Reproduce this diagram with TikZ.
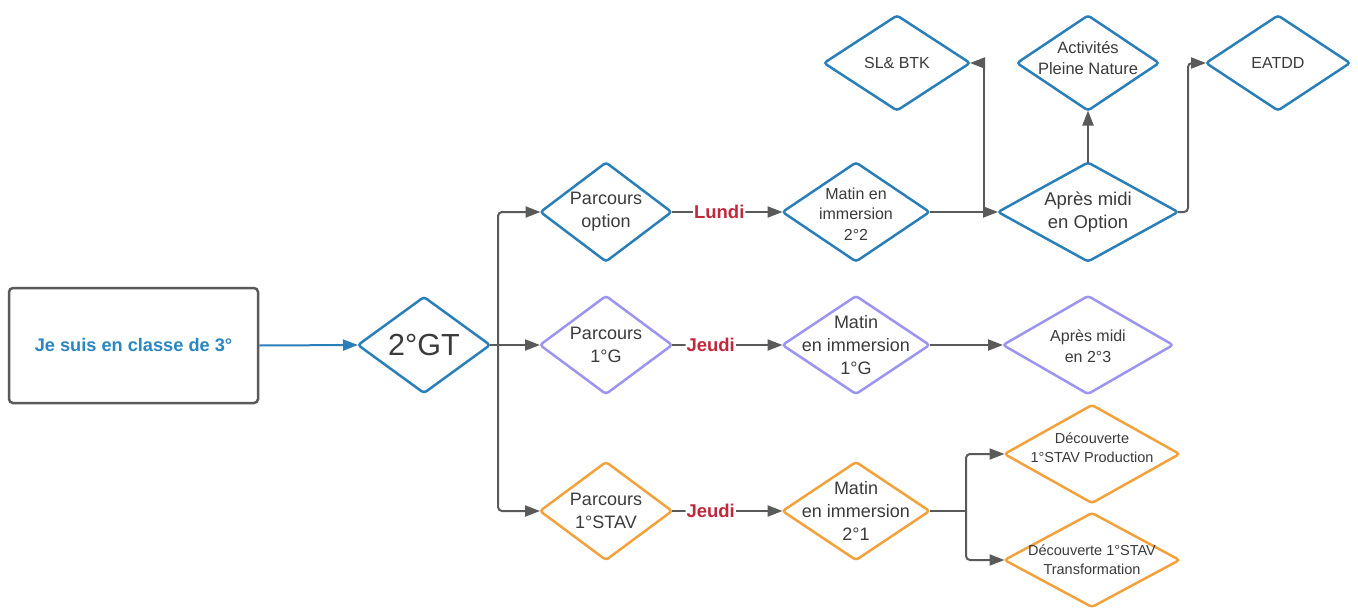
\documentclass[tikz,border=0pt]{standalone}
\usepackage{fontspec}
\setmainfont{Liberation Sans}
\usetikzlibrary{shapes.geometric,arrows.meta}
\definecolor{cblue}{HTML}{2A7FB8}
\definecolor{cpurple}{HTML}{9C95F0}
\definecolor{corange}{HTML}{F2A23C}
\definecolor{cgray}{HTML}{5A5A5A}
\definecolor{ctext}{HTML}{3B3B3B}
\definecolor{cred}{HTML}{C0283C}
\definecolor{cboxtext}{HTML}{2A86C0}
\begin{document}
\begin{tikzpicture}[x=1pt,y=-1pt,
  dia/.style={diamond,draw,line width=2.5pt,rounded corners=3pt,inner sep=0pt,outer sep=0pt,fill=white},
  bdia/.style={dia,draw=cblue},
  pdia/.style={dia,draw=cpurple},
  odia/.style={dia,draw=corange},
  txt/.style={align=center,text=ctext,inner sep=0pt},
  lbl/.style={fill=white,text=cred,font=\fontsize{18.5}{20}\selectfont\bfseries,inner sep=1pt},
  conn/.style={draw=cgray,line width=2pt,-{Triangle[length=15pt,width=11pt]},rounded corners=4pt},
  plain/.style={draw=cgray,line width=2pt,rounded corners=4pt},
]
\useasboundingbox (0,0) rectangle (1358,608);

% start box
\node[draw=cgray,line width=2.5pt,rounded corners=4pt,minimum width=249pt,minimum height=115pt,inner sep=0pt,
  text=cboxtext,font=\fontsize{18.2}{20}\selectfont\bfseries] (box) at (133.5,345.5) {Je suis en classe de 3°};

% 2°GT
\node[bdia,minimum width=132pt,minimum height=96pt] (gt) at (424,345) {};
\node[txt,font=\fontsize{30.5}{32}\selectfont] (gtt) at (gt) {2°GT};

% Parcours
\node[bdia,minimum width=131pt,minimum height=99pt] (po) at (606,212) {};
\node[txt,font=\fontsize{18}{23}\selectfont] (pot) at (po) {Parcours\\option};
\node[pdia,minimum width=132pt,minimum height=98pt] (pg) at (606,345) {};
\node[txt,font=\fontsize{18}{23}\selectfont] (pgt) at (pg) {Parcours\\1°G};
\node[odia,minimum width=132pt,minimum height=98pt] (ps) at (606,511) {};
\node[txt,font=\fontsize{18}{23}\selectfont] (pst) at (ps) {Parcours\\1°STAV};

% Matin
\node[bdia,minimum width=147pt,minimum height=99pt] (mo) at (856,212) {};
\node[txt,font=\fontsize{16}{20.5}\selectfont] (mot) at ([yshift=-2pt]mo.center) {Matin en\\immersion\\2°2};
\node[pdia,minimum width=147pt,minimum height=98pt] (mg) at (856,345) {};
\node[txt,font=\fontsize{18}{23}\selectfont] (mgt) at (mg) {Matin\\en immersion\\1°G};
\node[odia,minimum width=147pt,minimum height=98pt] (ms) at (856,511) {};
\node[txt,font=\fontsize{18}{23}\selectfont] (mst) at (ms) {Matin\\en immersion\\2°1};

% Apres midi
\node[bdia,minimum width=180pt,minimum height=99pt] (ao) at (1088,212) {};
\node[txt,font=\fontsize{18.5}{23}\selectfont] (aot) at (ao) {Après midi\\en Option};
\node[pdia,minimum width=170pt,minimum height=98pt] (ag) at (1088,345) {};
\node[txt,font=\fontsize{16}{21}\selectfont] (agt) at ([yshift=-1pt]ag.center) {Après midi\\en 2°3};

% top row
\node[bdia,minimum width=146pt,minimum height=95pt] (sl) at (897,63) {};
\node[txt,font=\fontsize{16}{20}\selectfont] (slt) at (sl) {SL\& BTK};
\node[bdia,minimum width=142pt,minimum height=95pt] (an) at (1088,63) {};
\node[txt,font=\fontsize{16.5}{21}\selectfont] (ant) at ([yshift=5pt]an.center) {Activités\\Pleine Nature};
\node[bdia,minimum width=144pt,minimum height=95pt] (ea) at (1278,63) {};
\node[txt,font=\fontsize{16}{20}\selectfont] (eat) at (ea) {EATDD};

% Decouverte
\node[odia,minimum width=175pt,minimum height=98pt] (dp) at (1092,454) {};
\node[txt,font=\fontsize{14.5}{19}\selectfont] (dpt) at ([yshift=6pt]dp.center) {Découverte\\1°STAV Production};
\node[odia,minimum width=175pt,minimum height=94pt] (dt) at (1092,560) {};
\node[txt,font=\fontsize{14.5}{19}\selectfont] (dtt) at (dt) {Découverte 1°STAV\\Transformation};

% connectors
\draw[conn,draw=cblue] (box.east) -- (gt.west);
\coordinate (br) at (498,345);
\draw[plain] (gt.east) -- (br);
\draw[conn] (br) |- (po.west);
\draw[conn] (br) -- (pg.west);
\draw[conn] (br) |- (ps.west);

\draw[conn] (po.east) -- node[lbl,pos=0.43] (lu) {Lundi} (mo.west);
\draw[conn] (pg.east) -- node[lbl,pos=0.35] (je1) {Jeudi} (mg.west);
\draw[conn] (ps.east) -- node[lbl,pos=0.35] (je2) {Jeudi} (ms.west);

\coordinate (j1) at (984,212);
\draw[conn] (mo.east) -- (ao.west);
\draw[conn,rounded corners=0pt] (j1) |- (sl.east);
\draw[conn] (ao.north) -- (an.south);
\coordinate (j2) at (1188,212);
\draw[conn] (ao.east) -- (j2) |- (ea.west);

\draw[conn] (mg.east) -- (ag.west);

\coordinate (j3) at (966,511);
\draw[plain] (ms.east) -- (j3);
\draw[conn] (j3) |- (dp.west);
\draw[conn] (j3) |- (dt.west);
\end{tikzpicture}
\end{document}
